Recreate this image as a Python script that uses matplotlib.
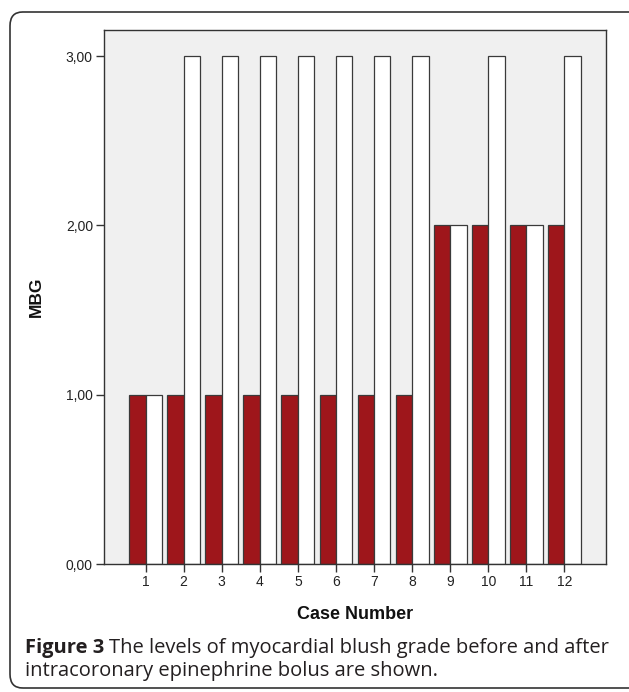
import matplotlib
matplotlib.use("Agg")
import matplotlib.pyplot as plt
from matplotlib.patches import FancyBboxPatch
import numpy as np

cases = [1, 2, 3, 4, 5, 6, 7, 8, 9, 10, 11, 12]
before = [1, 1, 1, 1, 1, 1, 1, 1, 2, 2, 2, 2]
after = [1, 3, 3, 3, 3, 3, 3, 3, 2, 3, 2, 3]
yticks = [0, 1, 2, 3]
yticklabels = ["0,00", "1,00", "2,00", "3,00"]

W, H = 629, 692
fig = plt.figure(figsize=(W / 100, H / 100), dpi=100)

# outer rounded frame
frame = FancyBboxPatch((10 / W, 4 / H), (W + 20) / W, (688 - 12) / H - 0 / H,
                       boxstyle="round,pad=0,rounding_size=0.02",
                       transform=fig.transFigure, fill=False,
                       edgecolor="#333333", linewidth=1.2, clip_on=False)
frame.set_bounds(10 / W, 1 - 688 / H, (W + 20) / W, (688 - 12) / H)
fig.patches.append(frame)

ax = fig.add_axes([104 / W, 1 - 564 / H, (606 - 104) / W, (564 - 30) / H])
ax.set_facecolor("#f0f0f0")
x = np.array(cases)
w = 0.43
ax.bar(x - w / 2, before, width=w, color="#9e161b", edgecolor="#3a3a3a", linewidth=0.9)
ax.bar(x + w / 2, after, width=w, color="white", edgecolor="#3a3a3a", linewidth=0.9)
ax.set_xlim(-0.09, 13.09)
ax.set_ylim(0, 3.154)
ax.set_yticks(yticks)
ax.set_yticklabels(yticklabels, fontsize=10, family="Liberation Sans", color="#222222")
ax.set_xticks(cases)
ax.set_xticklabels([str(c) for c in cases], fontsize=10, family="Liberation Sans", color="#222222")
ax.tick_params(axis="both", direction="out", length=6, width=1, color="#333333", pad=2)
for s in ax.spines.values():
    s.set_color("#333333")
    s.set_linewidth(1)
ax.set_ylabel("MBG", fontsize=12.5, fontweight="bold", family="Liberation Sans", labelpad=16, color="#111111")
ax.set_xlabel("Case Number", fontsize=13, fontweight="bold", family="Liberation Sans", labelpad=12, color="#111111")

# caption
fig.canvas.draw()
r = fig.canvas.get_renderer()
cap_color = "#231f20"
t1 = fig.text(25 / W, 1 - 648 / H, "Figure 3", fontsize=14.5, fontweight="bold",
              family="Open Sans", va="center", ha="left", color=cap_color)
bb = t1.get_window_extent(renderer=r)
fig.text(bb.x1 / W + 5 / W, 1 - 648 / H, "The levels of myocardial blush grade before and after",
         fontsize=14.5, family="Open Sans", va="center", ha="left", color=cap_color)
fig.text(25 / W, 1 - 671 / H, "intracoronary epinephrine bolus are shown.",
         fontsize=14.5, family="Open Sans", va="center", ha="left", color=cap_color)

fig.savefig("out.png", dpi=100)
